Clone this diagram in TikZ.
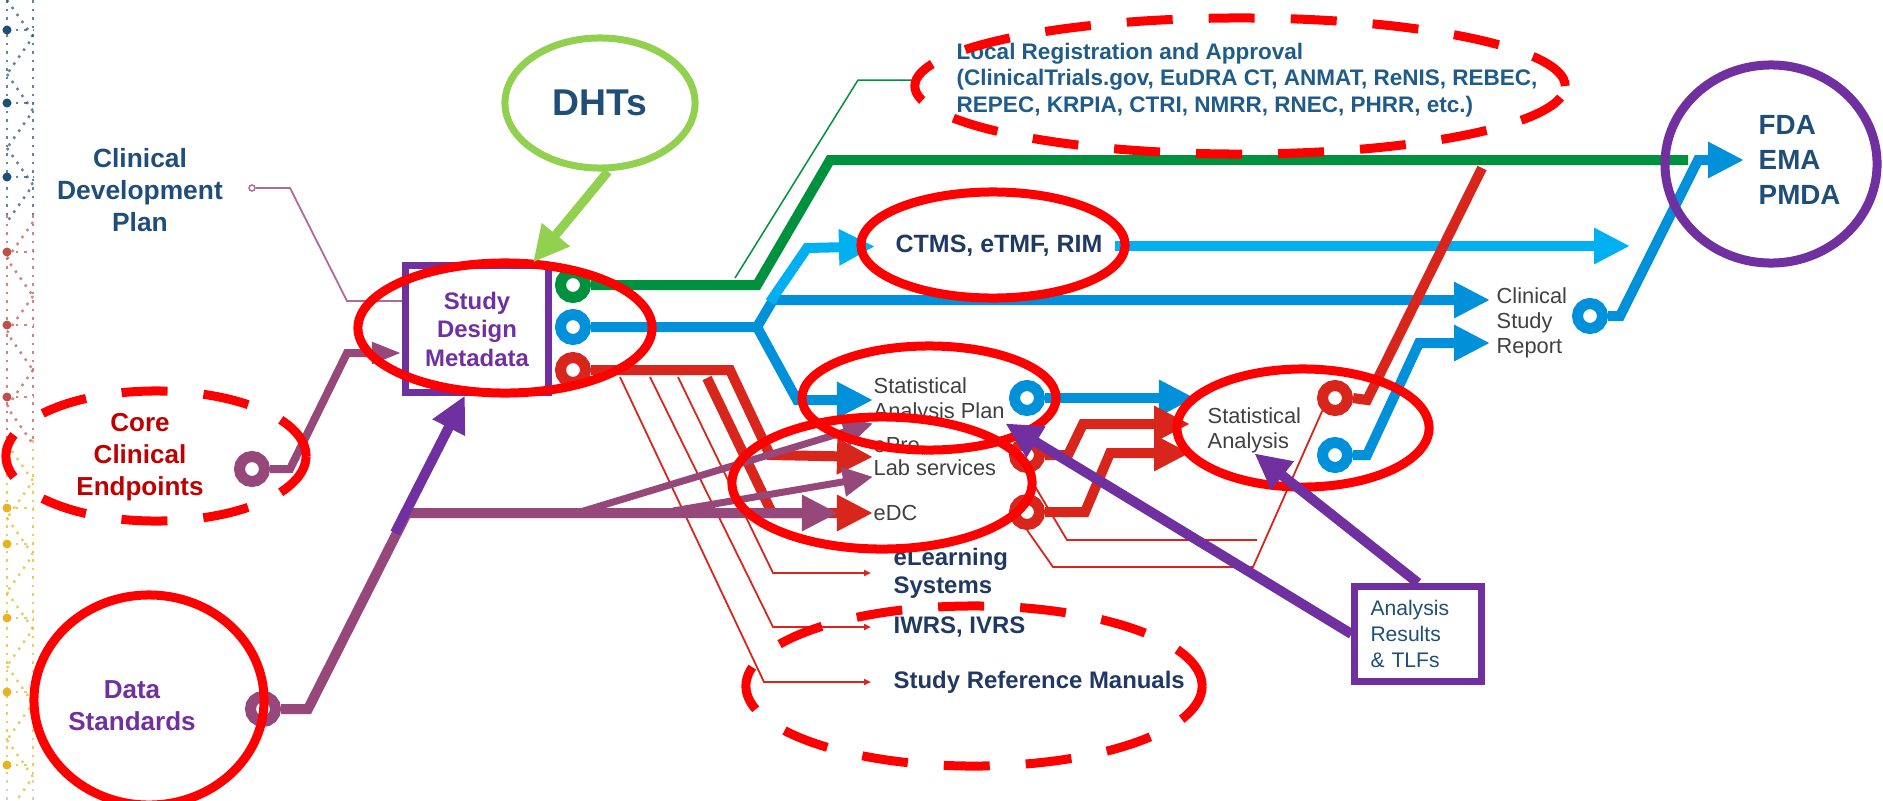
\documentclass[tikz,border=0pt]{standalone}
\usepackage{fontspec}
\setmainfont{Liberation Sans}
\usetikzlibrary{arrows.meta,shapes.geometric}
\definecolor{steelblue}{HTML}{1F4E79}
\definecolor{navy}{HTML}{1F3864}
\definecolor{regblue}{HTML}{1F5C8A}
\definecolor{darkred}{HTML}{C00000}
\definecolor{purp}{HTML}{7030A0}
\definecolor{mauve}{HTML}{96487A}
\definecolor{pinkline}{HTML}{B06A9A}
\definecolor{leaf}{HTML}{92D050}
\definecolor{forest}{HTML}{00913F}
\definecolor{sky}{HTML}{00B0F0}
\definecolor{ocean}{HTML}{0091DA}
\definecolor{brick}{HTML}{D9261C}
\definecolor{hilite}{HTML}{FF0000}
\definecolor{graytext}{HTML}{404040}
\definecolor{dotred}{HTML}{C0504D}
\definecolor{gold}{HTML}{E6B422}
\begin{document}
\begin{tikzpicture}[x=0.01cm, y=-0.01cm,
  port/.style={circle, draw=#1, fill=white, line width=0.11cm, minimum size=0.25cm, inner sep=0pt},
  flow/.style={draw=#1, line width=0.1cm},
  wire/.style={draw=#1, line width=0.018cm},
  dotline/.style={draw=#1, line width=0.025cm, dash pattern=on 0.025cm off 0.06cm, opacity=0.7},
  bighead/.style={-{Triangle[length=0.36cm,width=0.34cm]}},
  midhead/.style={-{Triangle[length=0.3cm,width=0.28cm]}},
  tinyhead/.style={-{Triangle[length=0.07cm,width=0.06cm]}},
  ring/.style={ellipse, draw=hilite, line width=0.09cm, inner sep=0pt},
  dashring/.style={ring, dash pattern=on 0.46cm off 0.36cm},
  txt/.style={inner sep=0pt}]
  \useasboundingbox (0,0) rectangle (1883,800);

  % dotted strip on the left
  \draw[dotline=steelblue] (7,0) -- (7,215) (33,0) -- (33,215);
  \draw[dotline=dotred] (7,215) -- (7,440) (33,215) -- (33,440);
  \draw[dotline=gold] (7,440) -- (7,780) (33,440) -- (33,780);
  \draw[dotline=gray!50] (7,780) -- (7,800) (33,780) -- (33,800);
  \foreach \yy in {0,74,148} \draw[dotline=steelblue] (7,\yy) -- (33,{\yy+37}) -- (7,{\yy+74});
  \foreach \yy in {222,296,370} \draw[dotline=dotred] (33,\yy) -- (7,{\yy+37}) -- (33,{\yy+74});
  \foreach \yy in {444,518,592,666,740} \draw[dotline=gold] (7,\yy) -- (33,{\yy+37}) -- (7,{\yy+74});
  \foreach \yy/\cc in {30/steelblue,103/steelblue,177/steelblue,252/dotred,325/dotred,397/dotred,508/gold,544/gold,618/gold,692/gold,765/gold}{
    \fill[\cc] (7,\yy) circle (0.045cm);
    \draw[dotline=\cc] (7,\yy) -- (33,\yy);
  }

  % text nodes
  \node[txt, align=center, text=steelblue, font=\fontsize{7.5pt}{9.1pt}\selectfont\bfseries] (cdp) at (140,190) {Clinical\\Development\\Plan};
  \node[txt, align=center, text=darkred, font=\fontsize{7.4pt}{9pt}\selectfont\bfseries] (cce) at (140,457) {Core\\Clinical\\Endpoints};
  \node[txt, align=center, text=purp, font=\fontsize{7.4pt}{9.1pt}\selectfont\bfseries] (dst) at (132,706) {Data\\Standards};
  \node[draw=purp, line width=0.07cm, minimum width=1.43cm, minimum height=1.26cm, inner sep=0pt, align=center, text=purp, font=\fontsize{6.8pt}{8.1pt}\selectfont\bfseries] (sdm) at (477,329) {Study\\Design\\Metadata};
  \node[ellipse, draw=leaf, line width=0.07cm, minimum width=1.9cm, minimum height=1.3cm, inner sep=0pt, text=steelblue, font=\fontsize{10.6pt}{12pt}\selectfont\bfseries] (dht) at (600,103) {DHTs};
  \node[txt, anchor=west, align=left, text=regblue, font=\fontsize{6.4pt}{7.5pt}\selectfont\bfseries] (lra) at (956,80) {Local Registration and Approval\\(ClinicalTrials.gov, EuDRA CT, ANMAT, ReNIS, REBEC,\\REPEC, KRPIA, CTRI, NMRR, RNEC, PHRR, etc.)};
  \node[txt, text=navy, font=\fontsize{7.1pt}{8pt}\selectfont\bfseries] (ctms) at (999,246) {CTMS, eTMF, RIM};
  \node[txt, anchor=west, align=left, text=graytext, font=\fontsize{6.2pt}{7.1pt}\selectfont] (sap) at (873,400) {Statistical\\Analysis Plan};
  \node[txt, anchor=west, align=left, text=graytext, font=\fontsize{6.2pt}{6.5pt}\selectfont] (epro) at (873,457) {ePro,\\Lab services};
  \node[txt, anchor=west, text=graytext, font=\fontsize{6.2pt}{7.1pt}\selectfont] (edc) at (873,513) {eDC};
  \node[txt, anchor=west, align=left, text=navy, font=\fontsize{6.8pt}{8pt}\selectfont\bfseries] (el) at (893,573) {eLearning\\Systems};
  \node[txt, anchor=west, text=navy, font=\fontsize{6.8pt}{8pt}\selectfont\bfseries] (iw) at (893,627) {IWRS, IVRS};
  \node[txt, anchor=west, text=navy, font=\fontsize{6.8pt}{8pt}\selectfont\bfseries] (srm) at (893,682) {Study Reference Manuals};
  \node[txt, anchor=west, align=left, text=graytext, font=\fontsize{6.2pt}{7.1pt}\selectfont] (sa) at (1207,430) {Statistical\\Analysis};
  \node[txt, anchor=west, align=left, text=graytext, font=\fontsize{6.2pt}{7.1pt}\selectfont] (csr) at (1496,323) {Clinical\\Study\\Report};
  \node[draw=purp, line width=0.07cm, minimum width=1.26cm, minimum height=0.95cm, text width=0.95cm, inner sep=0pt, align=left, text=steelblue, font=\fontsize{6pt}{7.3pt}\selectfont] (arb) at (1418,634) {Analysis\\Results\\\& TLFs};
  \node[txt, anchor=west, align=left, text=steelblue, font=\fontsize{7.9pt}{10pt}\selectfont\bfseries] (fda) at (1758,160) {FDA\\EMA\\PMDA};

  % ports
  \node[port=forest] (pg) at (573,285) {};
  \node[port=ocean] (pb) at (573,327) {};
  \node[port=brick] (pr) at (573,370) {};
  \node[port=mauve] (pce) at (252,469) {};
  \node[port=mauve] (pds) at (263,709) {};
  \node[circle, draw=pinkline, fill=white, line width=0.015cm, minimum size=0.06cm, inner sep=0pt] (pcdp) at (252,188) {};
  \node[port=ocean] (psap) at (1027,398) {};
  \node[port=brick] (pe) at (1027,455) {};
  \node[port=brick] (pd) at (1027,512) {};
  \node[port=brick] (psr) at (1335,398) {};
  \node[port=ocean] (psb) at (1335,455) {};
  \node[port=ocean] (pc) at (1590,316) {};

  % free ends and tips
  \coordinate (gend) at (1688,160);
  \coordinate (lrfoot) at (735,278);
  \coordinate (bsplit) at (757,327);
  \coordinate (cfork) at (770,302);
  \coordinate (ctmsend) at (1630,246);
  \coordinate (csrtip1) at (1490,300);
  \coordinate (csrtip2) at (1490,343);
  \coordinate (rfork) at (707,378);
  \coordinate (w1) at (678,377);
  \coordinate (w2) at (650,377);
  \coordinate (w3) at (620,377);
  \coordinate (satip1) at (1190,424);
  \coordinate (satip2) at (1190,453);
  \coordinate (wend) at (1257,540);
  \coordinate (rtop) at (1482,168);
  \coordinate (mfork1) at (577,513);
  \coordinate (mfork2) at (673,511);
  \coordinate (dsup) at (395,533);

  % green
  \draw[flow=forest] (pg.east) -- (757,285) -- (830,160) -- (gend);
  \draw[wire=forest, line width=0.015cm, shorten >=0.36cm] (lrfoot) -- (858,80) -- (lra.west);
  % blue
  \draw[flow=ocean, bighead] (pb.east) -- (bsplit) -- (773,300) -- (csrtip1);
  \draw[flow=ocean, bighead] (bsplit) -- (797,400) -- (sap.west);
  \draw[flow=sky, bighead, shorten >=0.2cm] (cfork) -- (807,248) -- (ctms.west);
  \draw[flow=sky, bighead, shorten <=0.12cm] (ctms.east) -- (ctmsend);
  \draw[flow=ocean, bighead, shorten >=0.12cm] (psap.east) -- (psap.east -| sa.west);
  \draw[flow=ocean, bighead] (psb.east) -- (1367,455) -- (1419,343) -- (csrtip2);
  \draw[flow=ocean, bighead, shorten >=0.14cm] (pc.east) -- (1620,316) -- (1698,160) -- (fda.west);
  % red
  \draw[flow=brick, bighead] (pr.east) -- (730,370) -- (770,455) -- (epro.west);
  \draw[flow=brick, bighead] (rfork) -- (772,513) -- (edc.west);
  \draw[wire=brick, tinyhead, shorten >=0.22cm] (w1) -- (773,573) -- (el.west);
  \draw[wire=brick, tinyhead, shorten >=0.22cm] (w2) -- (773,627) -- (iw.west);
  \draw[wire=brick, tinyhead, shorten >=0.22cm] (w3) -- (764,682) -- (srm.west);
  \draw[flow=brick, bighead] (pe.east) -- (1068,455) -- (1083,424) -- (satip1);
  \draw[flow=brick, bighead] (pd.east) -- (1085,512) -- (1110,453) -- (satip2);
  \draw[wire=brick] (pe.south) -- (1067,540) -- (wend);
  \draw[wire=brick] (pd.south) -- (1053,567) -- (1253,567) -- (psr.south west);
  \draw[flow=brick] (psr.east) -- (1367,400) -- (rtop);
  % mauve
  \draw[wire=pinkline] (pcdp.east) -- (290,188) -- (347,301) -- ([yshift=0.28cm]sdm.west);
  \draw[flow=mauve, line width=0.08cm, -{Triangle[length=0.3cm,width=0.2cm]}] (pce.east) -- (290,469) -- (347,353) -- ([yshift=-0.24cm]sdm.west);
  \draw[flow=mauve, bighead, shorten >=0.35cm] (pds.east) -- (308,709) -- (407,513) -- (edc.west);
  \draw[flow=mauve, line width=0.07cm, midhead] (mfork1) -- (sap.south west);
  \draw[flow=mauve, line width=0.07cm, midhead] (mfork2) -- (epro.south west);

  % highlight rings
  \node[ring, minimum width=2.94cm, minimum height=1.3cm] (sdmring) at (505,328) {};
  \node[ring, minimum width=2.64cm, minimum height=1.06cm] (ctmsring) at (993,245) {};
  \node[ring, minimum width=2.54cm, minimum height=1.04cm] (sapring) at (929,398) {};
  \node[ring, minimum width=3.0cm, minimum height=1.32cm] (epring) at (882,483) {};
  \node[ring, minimum width=2.52cm, minimum height=1.18cm] (saring) at (1303,428) {};
  \node[ring, minimum width=2.3cm, minimum height=2.1cm] (dsring) at (149,700) {};
  \node[dashring, minimum width=6.5cm, minimum height=1.36cm] (lraring) at (1240,86) {};
  \node[dashring, minimum width=3.0cm, minimum height=1.3cm] (cering) at (156,456) {};
  \node[dashring, minimum width=4.56cm, minimum height=1.6cm] (srmring) at (974,686) {};
  \node[ellipse, draw=purp, line width=0.09cm, minimum width=2.12cm, minimum height=1.98cm, inner sep=0pt] (fdaring) at (1771,164) {};

  % pointers
  \draw[flow=leaf, line width=0.09cm, bighead] ([xshift=0.08cm]dht.south) -- ([xshift=0.56cm]sdm.north);
  \draw[flow=purp, bighead] (dsup) -- ([xshift=-0.12cm]sdm.south);
  \draw[flow=purp, bighead] (arb.north) -- (sa.south);
  \draw[flow=purp, bighead] (arb.west) -- (sap.south east);
\end{tikzpicture}
\end{document}
